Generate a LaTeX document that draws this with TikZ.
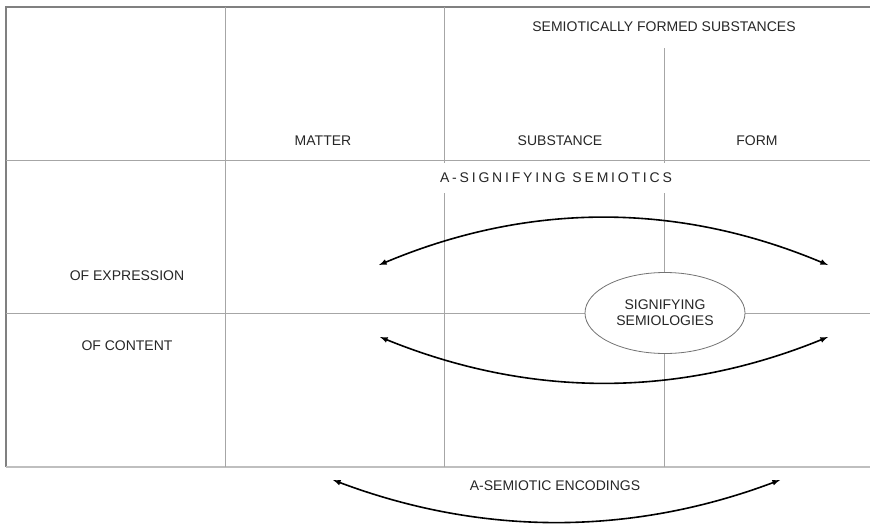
\documentclass[tikz,border=0pt]{standalone}
\usepackage{fontspec}
\setmainfont{Liberation Sans}
\usetikzlibrary{positioning,shapes,arrows}

\begin{document}
\begin{tikzpicture}[
  x=1pt, y=-1pt,
  font=\fontsize{14}{16}\selectfont,
  gridline/.style={draw=black!35,line width=0.8pt},
  frameline/.style={draw=black!50,line width=1.6pt},
  lbl/.style={text=black!85,inner sep=1pt},
  arc/.style={line width=1.6pt,latex-latex},
  oval/.style={draw=black!55,ellipse,fill=white,minimum width=160pt,minimum height=81pt,align=center,text=black!85,line width=0.8pt,inner sep=0pt}
]
\useasboundingbox (0,0) rectangle (870,525);
% table
\draw[frameline] (870,7) -| (6,467);
\draw[frameline,draw=black!25] (6,467) -- (870,467);
\draw[gridline] (6,160) -- (870,160) (6,313) -- (870,313);
\draw[gridline] (225,7) -- (225,467) (444,7) -- (444,467) (664,48) -- (664,467);
% labels
\node[lbl] (sfs) at (664,27) {SEMIOTICALLY FORMED SUBSTANCES};
\node[lbl] (matter) at (323,141) {MATTER};
\node[lbl] (subst) at (560,141) {SUBSTANCE};
\node[lbl] (form) at (757,141) {FORM};
\node[lbl] (expr) at (127,276) {OF EXPRESSION};
\node[lbl] (cont) at (127,346) {OF CONTENT};
\node[lbl,fill=white,minimum height=30pt] (asig) at (556,178) {\addfontfeature{LetterSpace=20}A-SIGNIFYING SEMIOTICS};
\node[oval] (semio) at (665,313) {SIGNIFYING\\SEMIOLOGIES};
\node[lbl] (aenc) at (555,486) {A-SEMIOTIC ENCODINGS};
% arcs
\coordinate (exl) at (379,265);
\coordinate (exr) at (828,265);
\coordinate (ctl) at (380,337);
\coordinate (ctr) at (828,337);
\coordinate (enl) at (333,480);
\coordinate (enr) at (780,480);
\draw[arc] (exl) .. controls (529,202) and (678,202) .. (exr);
\draw[arc] (ctl) .. controls (530,398) and (678,398) .. (ctr);
\draw[arc] (enl) .. controls (482,536) and (631,536) .. (enr);
\end{tikzpicture}
\end{document}
